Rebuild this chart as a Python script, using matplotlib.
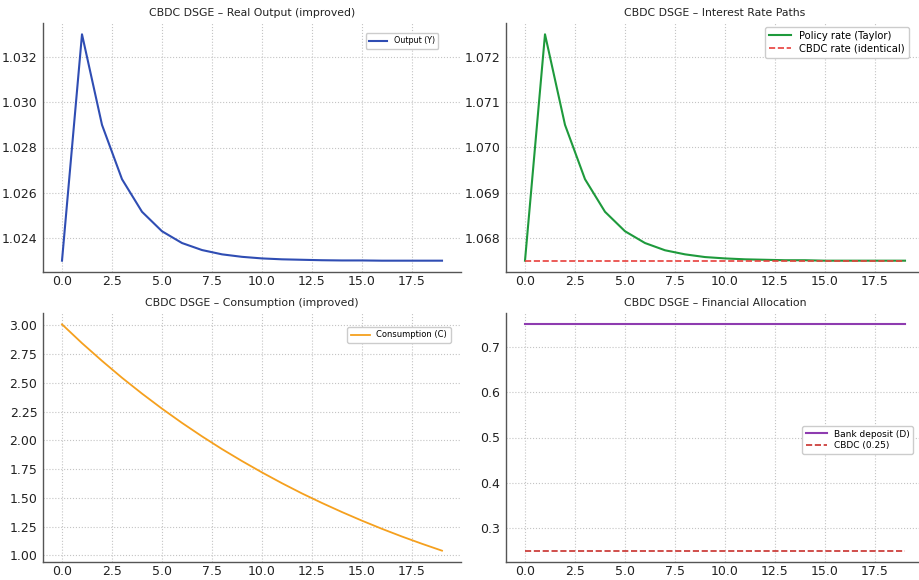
import matplotlib
matplotlib.use("Agg")
import matplotlib.pyplot as plt
import numpy as np

# periods
t = np.arange(20)

# values
output_y = [1.0230, 1.0330, 1.0290, 1.0266, 1.02516, 1.0243, 1.02378, 1.02347,
            1.02328, 1.02317, 1.0231, 1.02306, 1.02304, 1.02302, 1.02301,
            1.02301, 1.0230, 1.0230, 1.0230, 1.0230]
policy_rate = [1.0675, 1.0725, 1.0705, 1.0693, 1.06858, 1.06815, 1.06789, 1.06773,
               1.06764, 1.06758, 1.06755, 1.06753, 1.06752, 1.06751, 1.06751,
               1.0675, 1.0675, 1.0675, 1.0675, 1.0675]
cbdc_rate = [1.0675] * 20
consumption = [3.010, 2.846, 2.692, 2.545, 2.407, 2.276, 2.152, 2.035, 1.924, 1.820,
               1.721, 1.627, 1.538, 1.455, 1.376, 1.301, 1.230, 1.163, 1.100, 1.040]
bank_deposit = [0.75] * 20
cbdc_share = [0.25] * 20

titles = ["CBDC DSGE \u2013 Real Output (improved)",
          "CBDC DSGE \u2013 Interest Rate Paths",
          "CBDC DSGE \u2013 Consumption (improved)",
          "CBDC DSGE \u2013 Financial Allocation"]

W, H = 919, 580
fig = plt.figure(figsize=(W / 100, H / 100), dpi=100)


def make_ax(x0, y0, x1, y1):
    # pixel box -> figure fraction
    return fig.add_axes([x0 / W, 1 - y1 / H, (x1 - x0) / W, (y1 - y0) / H])


def style(ax, title):
    ax.set_title(title, fontsize=7.8, color="#222222", pad=5)
    for s in ["top", "right"]:
        ax.spines[s].set_visible(False)
    for s in ["left", "bottom"]:
        ax.spines[s].set_color("#555555")
        ax.spines[s].set_linewidth(1.0)
    ax.grid(True, linestyle=":", color="#c4c4c4", linewidth=0.8)
    ax.tick_params(labelsize=9, length=0, colors="#222222")
    ax.tick_params(axis="x", pad=2)
    ax.tick_params(axis="y", pad=4)
    ax.set_xticks(np.arange(0, 20, 2.5))


leg_kw = dict(framealpha=1, edgecolor="#cccccc", borderpad=0.4, labelspacing=0.3)

ax1 = make_ax(43, 23, 461, 272)
ax1.plot(t, output_y, color="#2f4db3", lw=1.5, label="Output (Y)")
style(ax1, titles[0])
ax1.set_yticks([1.024, 1.026, 1.028, 1.030, 1.032])
ax1.set_yticklabels(["1.024", "1.026", "1.028", "1.030", "1.032"])
ax1.legend(loc="upper right", fontsize=5.8, handlelength=2.3,
           bbox_to_anchor=(0.955, 0.975), **leg_kw)

ax2 = make_ax(506, 23, 924, 272)
ax2.plot(t, policy_rate, color="#1e9a3c", lw=1.5, label="Policy rate (Taylor)")
ax2.plot(t, cbdc_rate, color="#e8403c", lw=1.2, ls="--", label="CBDC rate (identical)")
style(ax2, titles[1])
ax2.set_yticks([1.068, 1.069, 1.070, 1.071, 1.072])
ax2.set_yticklabels(["1.068", "1.069", "1.070", "1.071", "1.072"])
ax2.legend(loc="upper right", fontsize=7.2, handlelength=2.2,
           bbox_to_anchor=(0.975, 1.005), **leg_kw)

ax3 = make_ax(43, 313, 461, 562)
ax3.plot(t, consumption, color="#f5a01e", lw=1.3, label="Consumption (C)")
style(ax3, titles[2])
ax3.set_yticks([1.00, 1.25, 1.50, 1.75, 2.00, 2.25, 2.50, 2.75, 3.00])
ax3.set_yticklabels(["1.00", "1.25", "1.50", "1.75", "2.00", "2.25", "2.50", "2.75", "3.00"])
ax3.legend(loc="upper right", fontsize=6, handlelength=2.3,
           bbox_to_anchor=(0.985, 0.96), **leg_kw)

ax4 = make_ax(506, 313, 924, 562)
ax4.plot(t, bank_deposit, color="#8e3cb0", lw=1.5, label="Bank deposit (D)")
ax4.plot(t, cbdc_share, color="#c8302c", lw=1.2, ls="--", label="CBDC (0.25)")
style(ax4, titles[3])
ax4.set_yticks([0.3, 0.4, 0.5, 0.6, 0.7])
ax4.set_yticklabels(["0.3", "0.4", "0.5", "0.6", "0.7"])
ax4.legend(loc="center right", fontsize=6.5, handlelength=2.3,
           bbox_to_anchor=(0.985, 0.49), **leg_kw)

fig.savefig("out.png", dpi=100)
